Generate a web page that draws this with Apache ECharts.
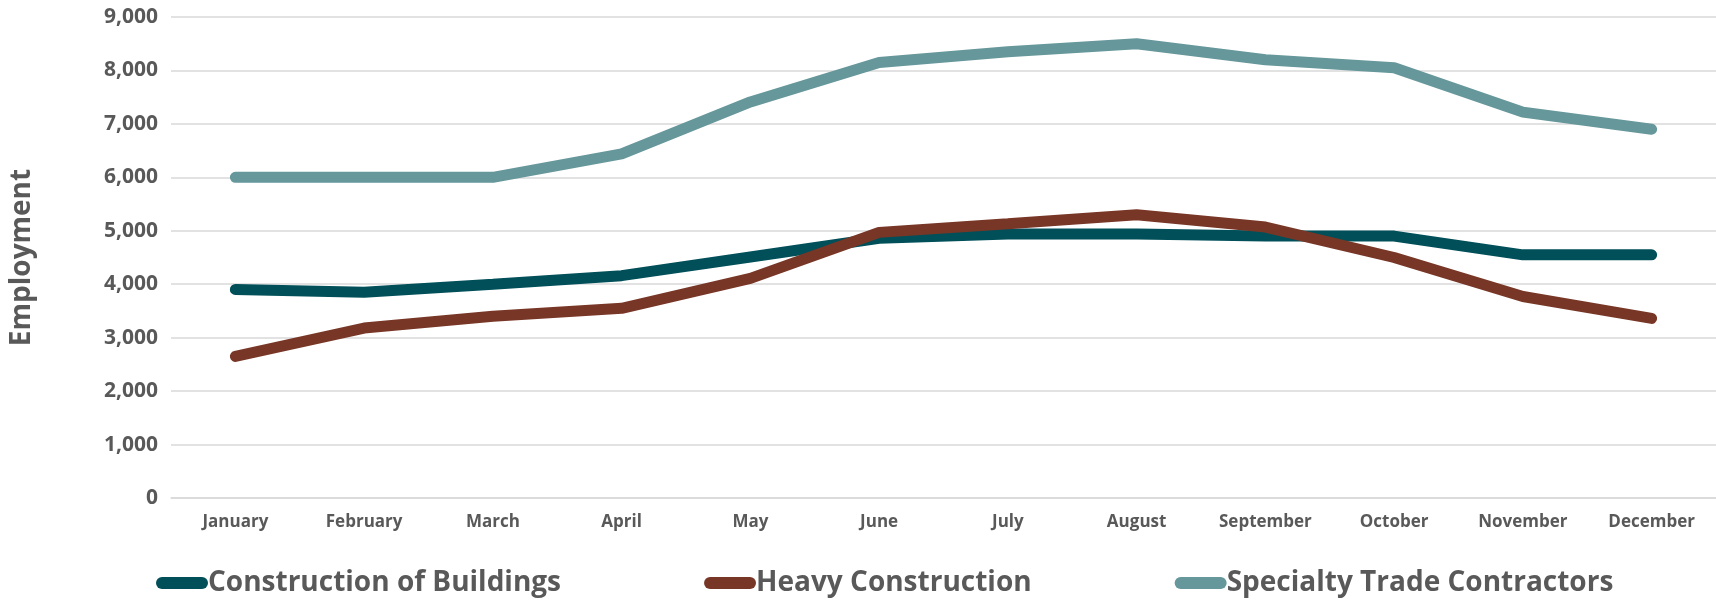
<!DOCTYPE html>
<html>
<head>
<meta charset="utf-8">
<script src="https://cdn.jsdelivr.net/npm/echarts@6/dist/echarts.min.js"></script>
<style>
  html, body { margin: 0; padding: 0; background: #fff; }
  #chart { width: 1716px; height: 600px; }
</style>
</head>
<body>
<div id="chart"></div>
<script>
// months on the x axis
const months = ['January', 'February', 'March', 'April', 'May', 'June', 'July', 'August', 'September', 'October', 'November', 'December'];
// employment per sector
const buildings = [3900, 3850, 4000, 4160, 4510, 4860, 4940, 4940, 4900, 4900, 4550, 4550];
const heavy = [2650, 3180, 3400, 3550, 4110, 4970, 5130, 5300, 5070, 4500, 3770, 3360];
const specialty = [6000, 6000, 6000, 6440, 7410, 8150, 8350, 8500, 8200, 8050, 7220, 6900];
const seriesNames = ['Construction of Buildings', 'Heavy Construction', 'Specialty Trade Contractors'];
const colors = ['#004F59', '#783626', '#66979B'];

const font = '"Open Sans", "Noto Sans", sans-serif';
const pill = 'path://M6,0 H46 A6,6 0 0 1 46,12 H6 A6,6 0 0 1 6,0 Z';

const chart = echarts.init(document.getElementById('chart'));
const mkLine = (name, data, color) => ({
    name: name,
    type: 'line',
    data: data,
    symbol: 'none',
    color: color,
    lineStyle: { width: 11, color: color, cap: 'round', join: 'bevel' }
});
chart.setOption({
    animation: false,
    grid: { left: 165, right: 0, top: 17, bottom: 102 },
    legend: {
        left: 151,
        top: 564,
        icon: pill,
        itemWidth: 52,
        itemHeight: 12,
        itemGap: 143,
        textStyle: { fontFamily: font, fontWeight: 'bold', fontSize: 28, color: '#595959', padding: [0, 0, 0, -5] },
        data: seriesNames
    },
    xAxis: {
        type: 'category',
        data: months,
        boundaryGap: true,
        axisTick: { show: false },
        axisLine: { lineStyle: { color: '#D9D9D9', width: 1.5 } },
        axisLabel: { fontFamily: font, fontWeight: 'bold', fontSize: 17, color: '#595959', margin: 16 }
    },
    yAxis: {
        type: 'value',
        min: 0,
        max: 9000,
        interval: 1000,
        name: 'Employment',
        nameLocation: 'middle',
        nameGap: 135,
        nameTextStyle: { fontFamily: font, fontWeight: 'bold', fontSize: 28, color: '#595959' },
        axisLabel: {
            fontFamily: font, fontWeight: 'bold', fontSize: 21, color: '#595959', margin: 13,
            formatter: v => v.toLocaleString('en-US')
        },
        splitLine: { lineStyle: { color: '#D9D9D9', width: 1.5 } }
    },
    series: [
        mkLine(seriesNames[0], buildings, colors[0]),
        mkLine(seriesNames[1], heavy, colors[1]),
        mkLine(seriesNames[2], specialty, colors[2])
    ]
});
</script>
</body>
</html>
